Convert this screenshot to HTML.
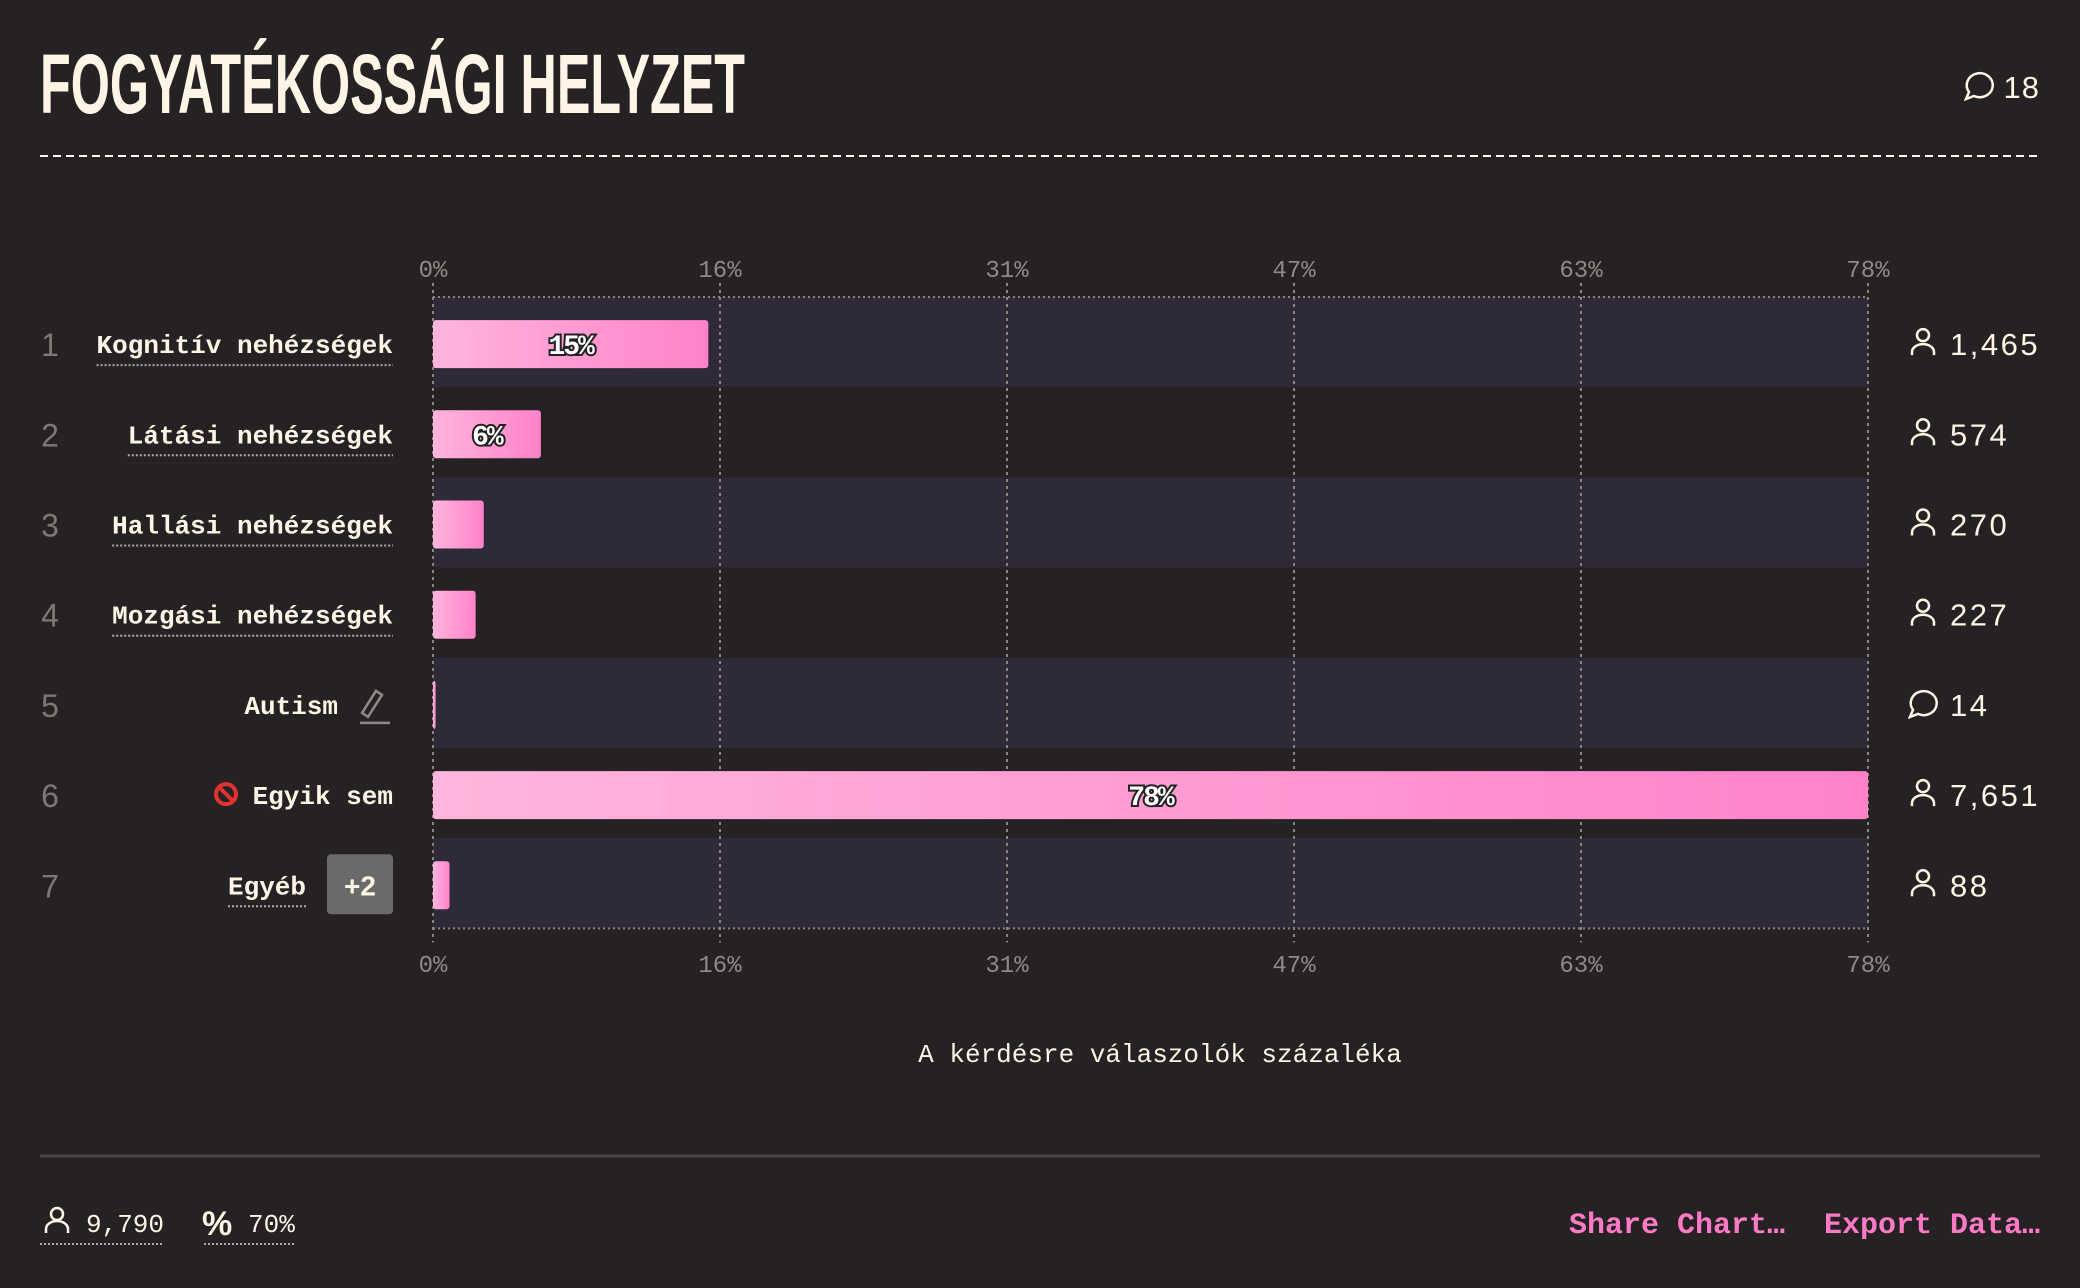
<!DOCTYPE html>
<html><head><meta charset="utf-8">
<style>
html,body{margin:0;padding:0;background:#262223;width:2080px;height:1288px;overflow:hidden}
svg{display:block}
text{font-family:"Liberation Mono",monospace}
</style></head>
<body>
<svg id="chart" width="2080" height="1288" viewBox="0 0 2080 1288" xmlns="http://www.w3.org/2000/svg">
<defs>
<linearGradient id="barGrad" x1="0" x2="1" y1="0" y2="0">
<stop offset="0" stop-color="#ffb5dd"/><stop offset="1" stop-color="#ff82c9"/>
</linearGradient>
</defs>
<rect width="2080" height="1288" fill="#262223"/>
<text x="40" y="113" font-weight="bold" font-size="84" fill="#fff5e6" textLength="705" lengthAdjust="spacingAndGlyphs" style="font-family:'Liberation Sans',sans-serif">FOGYATÉKOSSÁGI HELYZET</text>
<g>
<path d="M1966 99 l3 -7 a13 12 0 1 1 5 4 z" fill="none" stroke="#fff5e6" stroke-width="2.5"/>
<text x="2040" y="98" text-anchor="end" font-size="31" fill="#fff5e6" letter-spacing="1" style="font-family:'Liberation Sans',sans-serif">18</text>
</g>
<line x1="40" x2="2040" y1="156" y2="156" stroke="#fff5e6" stroke-width="2" stroke-dasharray="8,5"/>
<g id="plot"></g>
<text x="1160" y="1062" text-anchor="middle" font-size="26" fill="#fff5e6">A kérdésre válaszolók százaléka</text>
<line x1="40" x2="2040" y1="1156" y2="1156" stroke="#4a4648" stroke-width="3"/>
<g>
<circle cx="57" cy="1214" r="6" fill="none" stroke="#fff5e6" stroke-width="2.5"/>
<path d="M46 1233 v-4 a11 8 0 0 1 22 0 v4" fill="none" stroke="#fff5e6" stroke-width="2.5"/>
<text x="86" y="1232" font-size="26" fill="#fff5e6">9,790</text>
<line x1="40" x2="163" y1="1244" y2="1244" stroke="#aaa" stroke-width="2" stroke-dasharray="2,2"/>
</g>
<g>
<text x="202" y="1235" font-size="34" font-weight="bold" fill="#fff5e6" style="font-family:'Liberation Sans',sans-serif">%</text>
<text x="248" y="1232" font-size="26" fill="#fff5e6">70%</text>
<line x1="204" x2="295" y1="1244" y2="1244" stroke="#aaa" stroke-width="2" stroke-dasharray="2,2"/>
</g>
<text x="1785" y="1233" text-anchor="end" font-size="30" font-weight="bold" fill="#ff7ac6">Share Chart…</text>
<text x="2040" y="1233" text-anchor="end" font-size="30" font-weight="bold" fill="#ff7ac6">Export Data…</text>
</svg>
<script>
const categories = ["Kognitív nehézségek","Látási nehézségek","Hallási nehézségek","Mozgási nehézségek","Autism","Egyik sem","Egyéb"];
const counts = [1465,574,270,227,14,7651,88];
const total = 9790;
const tickLabels = ["0%","16%","31%","47%","63%","78%"];
const tickValues = [0,15.6,31.2,46.8,62.4,78];
const countIcons = ["person","person","person","person","comment","person","person"];

const NS="http://www.w3.org/2000/svg";
const g=document.getElementById('plot');
const x0=433,x1=1868,xMax=78,top0=297,rowH=90.2;
const x=v=>x0+(Math.min(v,xMax)/xMax)*(x1-x0);
const yRow=i=>top0+i*rowH;
function el(t,a,p){const e=document.createElementNS(NS,t);for(const k in a)e.setAttribute(k,a[k]);(p||g).appendChild(e);return e;}
const bottom=yRow(categories.length);
categories.forEach((c,i)=>{if(i%2===0){const b=el('rect',{x:x0,y:yRow(i),width:x1-x0,height:rowH,fill:'#2f2a37'});

}});
tickValues.forEach((v,i)=>{
const l=el('line',{x1:x(v),x2:x(v),y1:top0-14,y2:bottom+14,stroke:'#8a8580','stroke-width':2,'stroke-dasharray':'3,4'});


[277,972].forEach(yy=>{const t=el('text',{x:x(v),y:yy,'text-anchor':'middle','font-size':24,fill:'#8f8a85'});t.textContent=tickLabels[i];

});
});
[top0,bottom].forEach(yy=>{const l=el('line',{x1:x0,x2:x1,y1:yy,y2:yy,stroke:'#8a8580','stroke-width':2,'stroke-dasharray':'2,3'});

});
categories.forEach((c,i)=>{
const pct=counts[i]/total*100;
const cy=yRow(i)+rowH/2+2;
const n=el('text',{x:50,y:cy+12,'text-anchor':'middle','font-size':32,fill:'#7d7874',style:"font-family:'Liberation Sans',sans-serif"});n.textContent=String(i+1);


let right=393;
if(c==="Autism"){right=338;const p=el('path',{d:`M362 ${cy+8} l14 -22 l6 4 l-14 22 z M360 ${cy+18} h30`,fill:'none',stroke:'#8f8a85','stroke-width':2.5});

}
if(c==="Egyéb"){right=306;const bx=el('rect',{x:327,y:cy-31,width:66,height:60,rx:4,fill:'#6b6a6a'});


const bt=el('text',{x:360,y:cy+10,'text-anchor':'middle','font-size':28,'font-weight':'bold',fill:'#fff5e6',style:"font-family:'Liberation Sans',sans-serif"});bt.textContent="+2";}
const lab=el('text',{x:right,y:cy+9,'text-anchor':'end','font-size':26,'font-weight':'bold',fill:'#fff5e6'});lab.textContent=c;


if(c==="Egyik sem"){const ic=el('g',{});const cx=226;el('circle',{cx:cx,cy:cy-1,r:10,fill:'none',stroke:'#e0332f','stroke-width':4},ic);el('line',{x1:cx-7,y1:cy-8,x2:cx+7,y2:cy+6,stroke:'#e0332f','stroke-width':4},ic);

}
if(c!=="Autism"&&c!=="Egyik sem"){const w=c.length*15.6;el('line',{x1:right-w,x2:right,y1:cy+21,y2:cy+21,stroke:'#aaa','stroke-width':2,'stroke-dasharray':'2,2'});}
const bar=el('rect',{x:x0,y:cy-24,width:Math.max(2,x(pct)-x0),height:48,rx:3,fill:'url(#barGrad)'});


if(pct>5){const t=el('text',{x:(x0+x(pct))/2,y:cy+10,'text-anchor':'middle','font-size':28,'font-weight':'bold',fill:'#fff',stroke:'#222','stroke-width':4,'paint-order':'stroke','letter-spacing':'-2'});t.textContent=Math.round(pct)+"%";

}
const ig=el('g',{});
if(countIcons[i]==="person"){el('circle',{cx:1923,cy:cy-9,r:6,fill:'none',stroke:'#fff5e6','stroke-width':2.5},ig);el('path',{d:`M1912 ${cy+11} v-3 a11 8 0 0 1 22 0 v3`,fill:'none',stroke:'#fff5e6','stroke-width':2.5},ig);}
else{el('path',{d:`M1910 ${cy+12} l3 -7 a13 12 0 1 1 5 4 z`,fill:'none',stroke:'#fff5e6','stroke-width':2.5},ig);}


const ct=el('text',{x:1950,y:cy+11,'font-size':31,fill:'#fff5e6','letter-spacing':'2.5',style:"font-family:'Liberation Sans',sans-serif"});ct.textContent=counts[i].toLocaleString('en-US');


});
</script>
</body></html>
